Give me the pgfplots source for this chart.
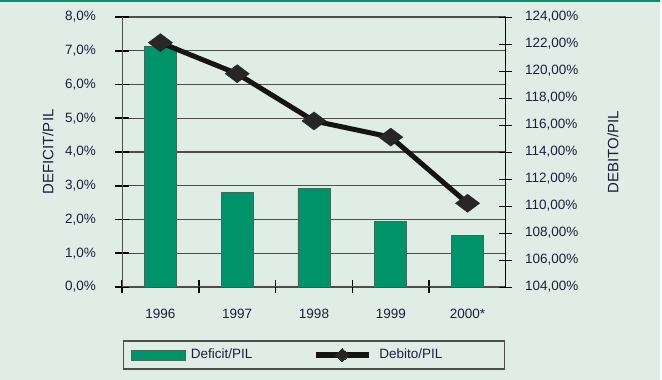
\documentclass[border=0pt]{standalone}
\usepackage{pgfplots}
\pgfplotsset{compat=1.18}
\usepackage{fontspec}
\setmainfont{Liberation Sans}
\definecolor{bg}{HTML}{E0EDE6}
\definecolor{bargreen}{HTML}{00936A}
\definecolor{baredge}{HTML}{3F6B57}
\definecolor{txt}{HTML}{1E1E3C}
\definecolor{gridc}{HTML}{4E4E4E}
\definecolor{markc}{HTML}{262626}
\pgfdeclareplotmark{wdiamond}{%
  \pgfpathmoveto{\pgfqpoint{12pt}{0pt}}%
  \pgfpathlineto{\pgfqpoint{0pt}{9pt}}%
  \pgfpathlineto{\pgfqpoint{-12pt}{0pt}}%
  \pgfpathlineto{\pgfqpoint{0pt}{-9pt}}%
  \pgfpathclose\pgfusepathqfillstroke}
\pgfplotsset{
  common/.style={
    at={(122pt,93pt)}, anchor=south west, scale only axis,
    width=384pt, height=270pt, xmin=-0.5, xmax=4.5,
    tick align=center, major tick length=13pt,
    every tick label/.append style={text=txt, font=\fontsize{13.5}{16}\selectfont},
    every axis label/.append style={text=txt, font=\fontsize{15}{17}\selectfont},
  }
}
\begin{document}
\fontsize{13.5}{16}\selectfont
\begin{tikzpicture}[x=1pt,y=1pt]
\useasboundingbox (0,0) rectangle (662,380);
\fill[white] (0,0) rectangle (662,380);
\fill[bg] (0,0) rectangle (660,380);
\fill[bargreen] (0,378) rectangle (660,380);
\begin{axis}[common,
  ymin=0, ymax=8,
  axis x line*=bottom, axis y line*=left,
  axis line style={draw=gridc, line width=1pt, -},
  ytick={0,1,...,8},
  yticklabels={{0,0\%},{1,0\%},{2,0\%},{3,0\%},{4,0\%},{5,0\%},{6,0\%},{7,0\%},{8,0\%}},
  yticklabel style={xshift=-15pt},
  xtick={-0.5,0.5,1.5,2.5,3.5},
  xticklabels={1996,1997,1998,1999,2000*},
  xticklabel style={xshift=38.4pt, yshift=-11pt},
  tick style={draw=black, line width=1.6pt},
  ymajorgrids, grid style={draw=gridc, line width=1.2pt},
  ylabel={DEFICIT/PIL},
  every axis y label/.style={at={(axis description cs:-0.1927,0.5)}, rotate=90, anchor=center},
]
\addplot[ybar, bar width=32pt, fill=bargreen, draw=baredge, line width=0.8pt]
  coordinates {(0,7.14) (1,2.81) (2,2.91) (3,1.93) (4,1.52)};
\end{axis}
\begin{axis}[common,
  ymin=104, ymax=124,
  axis y line*=right, axis x line=none,
  axis line style={draw=black, line width=1pt, -},
  ytick={104,106,...,124},
  yticklabels={{104,00\%},{106,00\%},{108,00\%},{110,00\%},{112,00\%},{114,00\%},{116,00\%},{118,00\%},{120,00\%},{122,00\%},{124,00\%}},
  yticklabel style={xshift=8pt},
  tick style={draw=black, line width=0.9pt},
  ylabel={DEBITO/PIL},
  every axis y label/.style={at={(axis description cs:1.2786,0.5)}, rotate=90, anchor=center},
  legend style={at={(axis description cs:0.5,-0.2519)}, anchor=center,
    draw=gridc, line width=1.1pt, fill=none, inner sep=0pt, outer sep=0pt,
    font=\fontsize{13.5}{16}\selectfont,
    nodes={inner xsep=0pt, inner ysep=0pt, minimum height=28pt, text=txt}},
  legend columns=2,
]
\addlegendimage{legend image code/.code={%
  \path (0pt,0pt) (66pt,0pt);
  \draw[fill=bargreen, draw=baredge, line width=0.8pt] (7pt,-5pt) rectangle (61pt,5pt);}}
\addlegendentry{\makebox[122pt][l]{Deficit/PIL}}
\addplot[color=black!92, line width=5pt, mark=wdiamond,
  mark options={fill=markc, draw=markc, line width=0.5pt, solid},
  legend image code/.code={%
  \path (0pt,0pt) (61pt,0pt);
  \draw[line width=6pt, black!92] (0pt,0pt) -- (53pt,0pt);
  \fill[markc, line width=0pt] (19.5pt,0pt) -- (26.5pt,6.5pt) -- (33.5pt,0pt) -- (26.5pt,-6.5pt) -- cycle;}]
  coordinates {(0,122.1) (1,119.8) (2,116.3) (3,115.1) (4,110.2)};
\addlegendentry{\makebox[125pt][l]{Debito/PIL}}
\end{axis}
\end{tikzpicture}
\end{document}
